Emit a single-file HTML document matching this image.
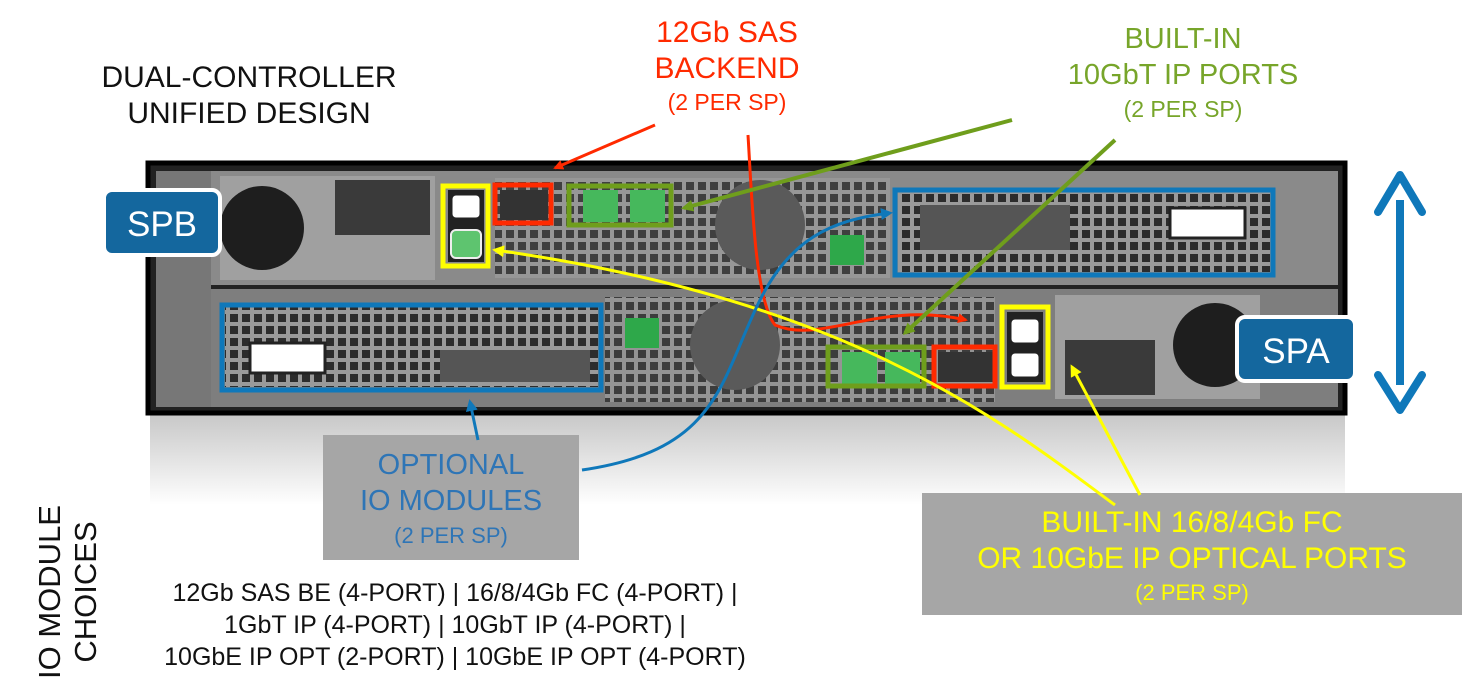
<!DOCTYPE html>
<html><head><meta charset="utf-8"><style>
html,body{margin:0;padding:0;background:#fff;}
svg{display:block;font-family:"Liberation Sans",Arial,sans-serif;}
</style></head><body>
<svg width="1482" height="686" viewBox="0 0 1482 686" xmlns="http://www.w3.org/2000/svg">
<defs>
<linearGradient id="refl" x1="0" y1="0" x2="0" y2="1">
<stop offset="0" stop-color="#c8c8c8"/><stop offset="1" stop-color="#ffffff"/>
</linearGradient>
<pattern id="grid" width="12" height="12" patternUnits="userSpaceOnUse">
<rect width="12" height="12" fill="#9a9a9a"/><rect x="2" y="2" width="8" height="8" fill="#2c2c2c"/>
</pattern>
<marker id="ar" markerWidth="10" markerHeight="10" refX="8" refY="5" orient="auto" markerUnits="userSpaceOnUse"><path d="M0,0 L10,5 L0,10 z" fill="#ff2a00"/></marker>
<marker id="ag" markerWidth="12" markerHeight="12" refX="9" refY="6" orient="auto" markerUnits="userSpaceOnUse"><path d="M0,0 L12,6 L0,12 z" fill="#6f9e1c"/></marker>
<marker id="ay" markerWidth="12" markerHeight="12" refX="9" refY="6" orient="auto" markerUnits="userSpaceOnUse"><path d="M0,0 L12,6 L0,12 z" fill="#ffff00"/></marker>
<marker id="ab" markerWidth="12" markerHeight="12" refX="9" refY="6" orient="auto" markerUnits="userSpaceOnUse"><path d="M0,0 L12,6 L0,12 z" fill="#0f78ba"/></marker>
</defs>

<rect x="150" y="415" width="1195" height="90" fill="url(#refl)"/>

<rect x="148" y="163" width="1197" height="250" fill="#222" stroke="#000" stroke-width="5"/>
<rect x="156" y="171" width="1182" height="114" fill="#8a8a8a"/>
<rect x="156" y="289" width="1182" height="118" fill="#7e7e7e"/>
<rect x="156" y="171" width="55" height="236" fill="#777"/>
<!-- PSU top left -->
<rect x="220" y="176" width="215" height="104" fill="#a0a0a0"/>
<circle cx="262" cy="228" r="42" fill="#1e1e1e"/>
<rect x="335" y="180" width="95" height="55" fill="#3a3a3a"/>
<!-- top middle -->
<rect x="495" y="178" width="395" height="100" fill="url(#grid)" opacity="0.8"/>
<circle cx="760" cy="225" r="45" fill="#5a5a5a"/>
<rect x="830" y="235" width="34" height="30" fill="#2ea84a"/>
<rect x="583" y="190" width="35" height="32" fill="#46b85c"/>
<rect x="630" y="190" width="35" height="32" fill="#46b85c"/>
<rect x="500" y="190" width="48" height="30" fill="#333"/>
<!-- top right module -->
<rect x="898" y="192" width="372" height="80" fill="url(#grid)"/>
<rect x="920" y="205" width="150" height="45" fill="#555"/>
<rect x="1170" y="208" width="75" height="30" fill="#fff" stroke="#222" stroke-width="3"/>
<!-- bottom left module -->
<rect x="225" y="307" width="373" height="80" fill="url(#grid)"/>
<rect x="250" y="343" width="75" height="30" fill="#fff" stroke="#222" stroke-width="3"/>
<rect x="440" y="350" width="150" height="32" fill="#555"/>
<!-- bottom middle -->
<rect x="605" y="297" width="390" height="105" fill="url(#grid)" opacity="0.8"/>
<circle cx="735" cy="345" r="45" fill="#5a5a5a"/>
<rect x="625" y="318" width="34" height="30" fill="#2ea84a"/>
<rect x="842" y="352" width="35" height="32" fill="#46b85c"/>
<rect x="885" y="352" width="35" height="32" fill="#46b85c"/>
<rect x="938" y="352" width="55" height="30" fill="#333"/>
<!-- PSU bottom right -->
<rect x="1055" y="295" width="205" height="104" fill="#a0a0a0"/>
<circle cx="1215" cy="345" r="42" fill="#1e1e1e"/>
<rect x="1065" y="340" width="90" height="55" fill="#3a3a3a"/>
<!-- yellow port blocks -->
<rect x="448" y="190" width="36" height="72" fill="#222"/>
<rect x="451" y="194" width="30" height="25" rx="5" fill="#fff" stroke="#222" stroke-width="3"/>
<rect x="451" y="230" width="30" height="28" rx="5" fill="#5ec46f" stroke="#eee" stroke-width="2"/>
<rect x="1007" y="312" width="36" height="70" fill="#222"/>
<rect x="1010" y="318" width="30" height="26" rx="5" fill="#fff" stroke="#222" stroke-width="3"/>
<rect x="1010" y="352" width="30" height="26" rx="5" fill="#fff" stroke="#222" stroke-width="3"/>

<!-- highlight boxes -->
<rect x="222" y="305" width="379" height="85" fill="none" stroke="#0f78ba" stroke-width="5"/>
<rect x="895" y="190" width="378" height="85" fill="none" stroke="#0f78ba" stroke-width="5"/>
<rect x="443" y="186" width="45" height="80" fill="none" stroke="#ffff00" stroke-width="5"/>
<rect x="1002" y="307" width="46" height="80" fill="none" stroke="#ffff00" stroke-width="5"/>
<rect x="495" y="185" width="56" height="38" fill="none" stroke="#ff2a00" stroke-width="5"/>
<rect x="934" y="347" width="61" height="39" fill="none" stroke="#ff2a00" stroke-width="5"/>
<rect x="569" y="186" width="102" height="39" fill="none" stroke="#6f9e1c" stroke-width="5"/>
<rect x="828" y="347" width="96" height="39" fill="none" stroke="#6f9e1c" stroke-width="5"/>

<rect x="104" y="190" width="116" height="65" rx="8" fill="#14679e" stroke="#fff" stroke-width="4"/>
<text x="162" y="236" font-size="35" fill="#fff" text-anchor="middle">SPB</text>
<rect x="1237" y="317" width="118" height="64" rx="8" fill="#14679e" stroke="#fff" stroke-width="4"/>
<text x="1296" y="363" font-size="35" fill="#fff" text-anchor="middle">SPA</text>

<line x1="1400" y1="200" x2="1400" y2="385" stroke="#0f78ba" stroke-width="8"/>
<path d="M1378,212 L1400,175 L1422,212" fill="none" stroke="#0f78ba" stroke-width="8" stroke-linejoin="round" stroke-linecap="round"/>
<path d="M1378,375 L1400,410 L1422,375" fill="none" stroke="#0f78ba" stroke-width="8" stroke-linejoin="round" stroke-linecap="round"/>

<rect x="323" y="435" width="256" height="125" fill="#a6a6a6"/>
<text x="451" y="474" font-size="29" fill="#2e75b6" text-anchor="middle">OPTIONAL</text>
<text x="451" y="510" font-size="29" fill="#2e75b6" text-anchor="middle">IO MODULES</text>
<text x="451" y="543" font-size="22" fill="#2e75b6" text-anchor="middle">(2 PER SP)</text>
<rect x="922" y="493" width="540" height="122" fill="#a6a6a6"/>
<text x="1192" y="532" font-size="30" fill="#ffff00" text-anchor="middle">BUILT-IN 16/8/4Gb FC</text>
<text x="1192" y="568" font-size="30" fill="#ffff00" text-anchor="middle">OR 10GbE IP OPTICAL PORTS</text>
<text x="1192" y="600" font-size="22" fill="#ffff00" text-anchor="middle">(2 PER SP)</text>

<path d="M748,135 C752,200 755,300 775,325 C820,345 880,300 966,320" fill="none" stroke="#ff2a00" stroke-width="3" marker-end="url(#ar)"/>
<line x1="655" y1="125" x2="555" y2="168" stroke="#ff2a00" stroke-width="3" marker-end="url(#ar)"/>
<line x1="1012" y1="120" x2="684" y2="208" stroke="#6f9e1c" stroke-width="4" marker-end="url(#ag)"/>
<line x1="1115" y1="140" x2="905" y2="333" stroke="#6f9e1c" stroke-width="4" marker-end="url(#ag)"/>
<path d="M1115,505 C1000,420 850,300 495,250" fill="none" stroke="#ffff00" stroke-width="3" marker-end="url(#ay)"/>
<line x1="1140" y1="495" x2="1072" y2="367" stroke="#ffff00" stroke-width="3" marker-end="url(#ay)"/>
<path d="M582,470 C720,450 720,380 760,300 C790,240 830,220 890,213" fill="none" stroke="#0f78ba" stroke-width="3" marker-end="url(#ab)"/>
<line x1="478" y1="440" x2="470" y2="402" stroke="#0f78ba" stroke-width="3" marker-end="url(#ab)"/>

<text x="249" y="87" font-size="30" fill="#111" text-anchor="middle">DUAL-CONTROLLER</text>
<text x="249" y="123" font-size="30" fill="#111" text-anchor="middle">UNIFIED DESIGN</text>
<text x="727" y="42" font-size="30" fill="#ff2a00" text-anchor="middle">12Gb SAS</text>
<text x="727" y="78" font-size="30" fill="#ff2a00" text-anchor="middle">BACKEND</text>
<text x="727" y="110" font-size="23" fill="#ff2a00" text-anchor="middle">(2 PER SP)</text>
<text x="1183" y="48" font-size="29" fill="#77a52a" text-anchor="middle">BUILT-IN</text>
<text x="1183" y="84" font-size="29" fill="#77a52a" text-anchor="middle">10GbT IP PORTS</text>
<text x="1183" y="117" font-size="23" fill="#77a52a" text-anchor="middle">(2 PER SP)</text>

<text transform="translate(60,592) rotate(-90)" font-size="31" fill="#111" text-anchor="middle">IO MODULE</text>
<text transform="translate(96,592) rotate(-90)" font-size="31" fill="#111" text-anchor="middle">CHOICES</text>
<text x="455" y="601" font-size="25" fill="#111" text-anchor="middle">12Gb SAS BE (4-PORT) | 16/8/4Gb FC (4-PORT) |</text>
<text x="455" y="633" font-size="25" fill="#111" text-anchor="middle">1GbT IP (4-PORT) | 10GbT IP (4-PORT) |</text>
<text x="455" y="665" font-size="25" fill="#111" text-anchor="middle">10GbE IP OPT (2-PORT) | 10GbE IP OPT (4-PORT)</text>
</svg>
</body></html>
